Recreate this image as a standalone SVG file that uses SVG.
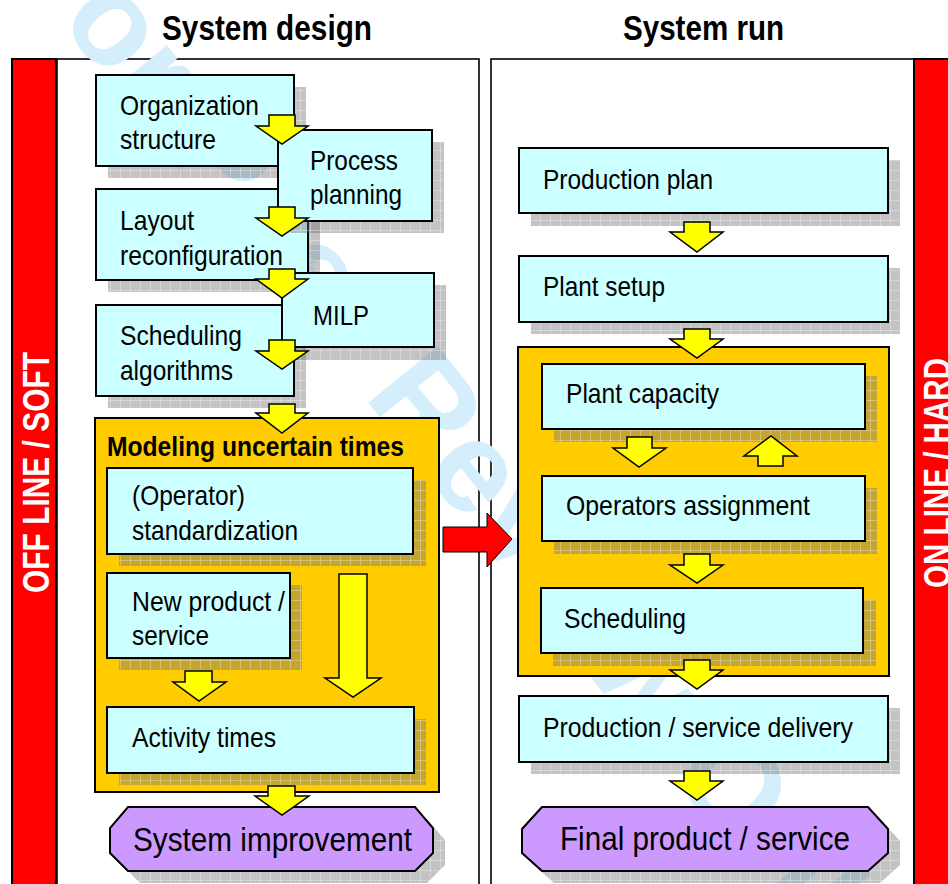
<svg xmlns="http://www.w3.org/2000/svg" width="948" height="884" viewBox="0 0 948 884">
  <defs>
    <!-- dithered drop shadow with a fine grid -->
    <pattern id="shade" width="10" height="10" patternUnits="userSpaceOnUse">
      <rect width="10" height="10" fill="#6f6f6f" fill-opacity="0.42"/>
      <path d="M0 0.5H10M0.5 0V10" stroke="#ffffff" stroke-opacity="0.3" stroke-width="1"/>
    </pattern>
    <style>
      text { font-family: "Liberation Sans", Arial, sans-serif; fill: #000; }
      .box { fill: #ccffff; stroke: #000; stroke-width: 2; }
      .group { fill: #ffcc00; stroke: #000; stroke-width: 2; }
      .goal { fill: #cc99ff; stroke: #000; stroke-width: 2; }
      .shadow { fill: url(#shade); }
      .panel { fill: #fff; stroke: #000; stroke-width: 1.6; }
      .bar { fill: #ff0000; stroke: #000; stroke-width: 2; }
      .flow { fill: #ffff00; stroke: #000; stroke-width: 1.5; stroke-linejoin: miter; }
      .lbl { font-size: 28px; }
      .big { font-size: 33px; }
      .head { font-size: 35px; font-weight: bold; }
      .side { font-size: 37px; font-weight: bold; fill: #fff; }
      .mark { font-size: 130px; font-weight: bold; fill: #d4eefb; }
    </style>
  </defs>

  <rect width="948" height="884" fill="#fff"/>

  <!-- panels -->
  <g id="panel-design">
    <rect class="panel" x="57" y="59" width="422" height="850"/>
  </g>
  <g id="panel-run">
    <rect class="panel" x="491" y="59" width="423" height="850"/>
  </g>

  <!-- background review stamp -->
  <text class="mark" transform="translate(8,-42) rotate(51)">For Peer Review Only</text>

  <!-- column titles -->
  <text class="head" x="162" y="40" textLength="210" lengthAdjust="spacingAndGlyphs">System design</text>
  <text class="head" x="623" y="40" textLength="161" lengthAdjust="spacingAndGlyphs">System run</text>

  <!-- side bands -->
  <g id="band-offline">
    <rect class="bar" x="12" y="59" width="44" height="850"/>
    <text class="side" transform="translate(49,472.5) rotate(-90)" text-anchor="middle" textLength="241" lengthAdjust="spacingAndGlyphs">OFF LINE / SOFT</text>
  </g>
  <g id="band-online">
    <rect class="bar" x="914" y="59" width="46" height="850"/>
    <text class="side" transform="translate(950,473) rotate(-90)" text-anchor="middle" textLength="230" lengthAdjust="spacingAndGlyphs">ON LINE / HARD</text>
  </g>

  <!-- ===== System design column ===== -->
  <g id="organization-structure">
    <rect class="shadow" x="108" y="87" width="198" height="91"/>
    <rect class="box" x="96" y="75" width="198" height="91"/>
    <text class="lbl" x="120" y="115" textLength="139" lengthAdjust="spacingAndGlyphs">Organization</text>
    <text class="lbl" x="120" y="149" textLength="96" lengthAdjust="spacingAndGlyphs">structure</text>
  </g>
  <g id="layout-reconfiguration">
    <rect class="shadow" x="108" y="201" width="212" height="91"/>
    <rect class="box" x="96" y="189" width="212" height="91"/>
    <text class="lbl" x="120" y="230" textLength="74" lengthAdjust="spacingAndGlyphs">Layout</text>
    <text class="lbl" x="120" y="265" textLength="163" lengthAdjust="spacingAndGlyphs">reconfiguration</text>
  </g>
  <g id="scheduling-algorithms">
    <rect class="shadow" x="108" y="317" width="198" height="91"/>
    <rect class="box" x="96" y="305" width="198" height="91"/>
    <text class="lbl" x="120" y="345" textLength="122" lengthAdjust="spacingAndGlyphs">Scheduling</text>
    <text class="lbl" x="120" y="380" textLength="113" lengthAdjust="spacingAndGlyphs">algorithms</text>
  </g>
  <g id="process-planning">
    <rect class="shadow" x="290" y="142" width="154" height="91"/>
    <rect class="box" x="278" y="130" width="154" height="91"/>
    <text class="lbl" x="310" y="170" textLength="88" lengthAdjust="spacingAndGlyphs">Process</text>
    <text class="lbl" x="310" y="204" textLength="92" lengthAdjust="spacingAndGlyphs">planning</text>
  </g>
  <g id="milp">
    <rect class="shadow" x="294" y="285" width="152" height="75"/>
    <rect class="box" x="282" y="273" width="152" height="74"/>
    <text class="lbl" x="313" y="325" textLength="56" lengthAdjust="spacingAndGlyphs">MILP</text>
  </g>

  <g id="modeling-uncertain-times">
    <rect class="group" x="95" y="418" width="344" height="374"/>
    <text x="107" y="456" font-size="27" font-weight="bold" textLength="297" lengthAdjust="spacingAndGlyphs">Modeling uncertain times</text>
  </g>
  <g id="operator-standardization">
    <rect class="shadow" x="119" y="480" width="307" height="86"/>
    <rect class="box" x="107" y="468" width="306" height="86"/>
    <text class="lbl" x="132" y="505" textLength="113" lengthAdjust="spacingAndGlyphs">(Operator)</text>
    <text class="lbl" x="132" y="540" textLength="166" lengthAdjust="spacingAndGlyphs">standardization</text>
  </g>
  <g id="new-product-service">
    <rect class="shadow" x="119" y="585" width="183" height="85"/>
    <rect class="box" x="107" y="573" width="183" height="85"/>
    <text class="lbl" x="132" y="611" textLength="153" lengthAdjust="spacingAndGlyphs">New product /</text>
    <text class="lbl" x="132" y="645" textLength="77" lengthAdjust="spacingAndGlyphs">service</text>
  </g>
  <g id="activity-times">
    <rect class="shadow" x="119" y="719" width="307" height="66"/>
    <rect class="box" x="107" y="707" width="307" height="66"/>
    <text class="lbl" x="132" y="747" textLength="144" lengthAdjust="spacingAndGlyphs">Activity times</text>
  </g>
  <g id="system-improvement">
    <polygon class="shadow" points="140,819 427,819 445,840 445,865 427,883 140,883 122,865 122,840"/>
    <polygon class="goal" points="128,807 415,807 433,828 433,853 415,871 128,871 110,853 110,828"/>
    <text class="big" x="133" y="851" textLength="279" lengthAdjust="spacingAndGlyphs">System improvement</text>
  </g>

  <!-- ===== System run column ===== -->
  <g id="production-plan">
    <rect class="shadow" x="531" y="160" width="369" height="66"/>
    <rect class="box" x="519" y="148" width="369" height="65"/>
    <text class="lbl" x="543" y="189" textLength="170" lengthAdjust="spacingAndGlyphs">Production plan</text>
  </g>
  <g id="plant-setup">
    <rect class="shadow" x="531" y="268" width="369" height="66"/>
    <rect class="box" x="519" y="256" width="369" height="66"/>
    <text class="lbl" x="543" y="296" textLength="122" lengthAdjust="spacingAndGlyphs">Plant setup</text>
  </g>
  <g id="run-core">
    <rect class="group" x="518" y="347" width="371" height="329"/>
  </g>
  <g id="plant-capacity">
    <rect class="shadow" x="554" y="376" width="323" height="66"/>
    <rect class="box" x="542" y="364" width="323" height="65"/>
    <text class="lbl" x="566" y="403" textLength="153" lengthAdjust="spacingAndGlyphs">Plant capacity</text>
  </g>
  <g id="operators-assignment">
    <rect class="shadow" x="554" y="488" width="323" height="66"/>
    <rect class="box" x="542" y="476" width="323" height="65"/>
    <text class="lbl" x="566" y="515" textLength="244" lengthAdjust="spacingAndGlyphs">Operators assignment</text>
  </g>
  <g id="scheduling">
    <rect class="shadow" x="553" y="600" width="323" height="66"/>
    <rect class="box" x="541" y="588" width="322" height="65"/>
    <text class="lbl" x="564" y="628" textLength="122" lengthAdjust="spacingAndGlyphs">Scheduling</text>
  </g>
  <g id="production-service-delivery">
    <rect class="shadow" x="531" y="708" width="369" height="66"/>
    <rect class="box" x="519" y="696" width="369" height="66"/>
    <text class="lbl" x="543" y="737" textLength="310" lengthAdjust="spacingAndGlyphs">Production / service delivery</text>
  </g>
  <g id="final-product-service">
    <polygon class="shadow" points="554,819 880,819 900,841 900,865 880,883 554,883 534,865 534,841"/>
    <polygon class="goal" points="542,807 868,807 888,829 888,853 868,871 542,871 522,853 522,829"/>
    <text class="big" x="560" y="850" textLength="290" lengthAdjust="spacingAndGlyphs">Final product / service</text>
  </g>

  <!-- ===== connectors ===== -->
  <g id="connectors">
    <polygon class="flow" points="269,115 295,115 295,126 308,126 282,144 256,126 269,126"/>
    <polygon class="flow" points="269,207 295,207 295,218 308,218 282,236 256,218 269,218"/>
    <polygon class="flow" points="269,269 295,269 295,279 308,279 282,298 256,279 269,279"/>
    <polygon class="flow" points="269,340 295,340 295,351 308,351 282,369 256,351 269,351"/>
    <polygon class="flow" points="269,404 295,404 295,413 308,413 282,433 256,413 269,413"/>
    <polygon class="flow" points="339,574 367,574 367,678 381,678 353,697 325,678 339,678"/>
    <polygon class="flow" points="185,671 212,671 212,682 226,682 199,701 173,682 185,682"/>
    <polygon class="flow" points="268,786 295,786 295,796 309,796 282,815 255,796 268,796"/>

    <polygon class="flow" points="684,222 710,222 710,232 723,232 697,252 670,232 684,232"/>
    <polygon class="flow" points="684,329 710,329 710,339 723,339 697,358 670,339 684,339"/>
    <polygon class="flow" points="627,437 652,437 652,448 666,448 639,467 613,448 627,448"/>
    <polygon class="flow" points="758,466 783,466 783,456 797,456 771,436 744,456 758,456"/>
    <polygon class="flow" points="684,554 710,554 710,565 723,565 697,583 670,565 684,565"/>
    <polygon class="flow" points="684,660 710,660 710,670 723,670 697,689 670,670 684,670"/>
    <polygon class="flow" points="684,771 710,771 710,781 723,781 697,800 670,781 684,781"/>

    <!-- hand-over from design to run -->
    <polygon points="443,527 487,527 487,513 512,539 487,567 487,552 443,552" fill="#ff0000" stroke="#000" stroke-width="1"/>
  </g>
</svg>
